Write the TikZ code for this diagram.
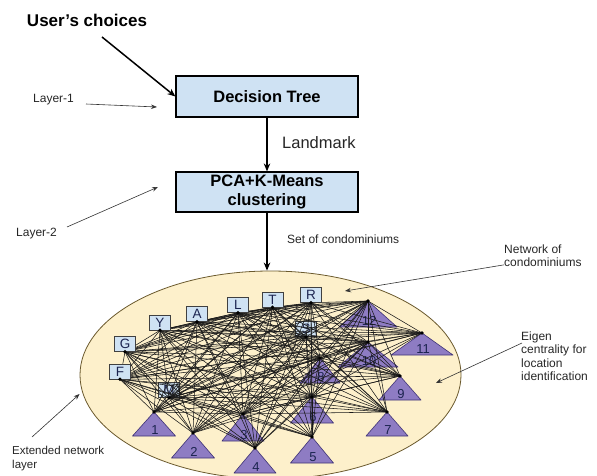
\documentclass[tikz,border=0pt]{standalone}
\usepackage{fontspec}
\setmainfont{Liberation Sans}
\usetikzlibrary{arrows.meta,shapes.geometric}

\definecolor{boxblue}{HTML}{CFE2F3}
\definecolor{cream}{HTML}{FDF0CB}
\definecolor{rim}{HTML}{6B5A2E}
\definecolor{violet}{HTML}{8E7CC3}
\definecolor{violetline}{HTML}{3E3275}
\definecolor{navy}{HTML}{1C2450}

\pgfdeclarelayer{back}
\pgfdeclarelayer{links}
\pgfsetlayers{back,links,main}

\tikzset{
  stage/.style={draw=black, line width=1.2pt, fill=boxblue, minimum width=182pt,
    minimum height=41pt, inner sep=0pt, align=center,
    font=\fontsize{16.5}{19}\selectfont\bfseries},
  note/.style={inner sep=0pt, anchor=west, align=left, text=black!85,
    font=\fontsize{12}{13.5}\selectfont},
  pointer/.style={-{Stealth[length=6pt,width=4.5pt]}, line width=0.6pt, black!80},
  flow/.style={-{Stealth[length=8pt,width=6.5pt]}, line width=1.5pt},
  letterbox/.style={draw=black!75, line width=0.6pt, fill=boxblue, minimum width=21pt,
    minimum height=15pt, inner sep=0pt, text=navy, font=\fontsize{13.5}{13.5}\selectfont},
  cluster/.style={fill=violet, draw=violetline, line width=0.6pt, line join=round},
  link/.style={line width=0.55pt, black!90},
  hub/.style={circle, fill=black, inner sep=0pt, minimum size=3.8pt},
  tag/.style={text=navy, font=\fontsize{13}{13}\selectfont, inner sep=0pt},
}

\begin{document}
\begin{tikzpicture}[x=1pt, y=-1pt]
\useasboundingbox (0,0) rectangle (597,476);

% ---------- pipeline ----------
\node[inner sep=0pt, font=\fontsize{17}{17}\selectfont\bfseries] (user) at (87,20) {User’s choices};
\node[stage] (dt) at (267,96.5) {Decision Tree};
\node[stage, minimum height=40pt] (pca) at (267,192) {PCA+K-Means\\clustering};

\coordinate (userTail) at (102,37);
\draw[flow] (userTail) -- (dt.west);
\draw[flow] (dt.south) -- (pca.north);
\node[note, font=\fontsize{16.5}{18}\selectfont] (landmark) at (282,143) {Landmark};

\node[note, anchor=center] (l1) at (53.5,100) {Layer-1};
\coordinate (l1tail) at (86,104);
\coordinate (l1tip) at (157,107);
\draw[pointer] (l1tail) -- (l1tip);

\node[note, anchor=center] (l2) at (36.5,234) {Layer-2};
\coordinate (l2tail) at (67,227);
\coordinate (l2tip) at (158,187);
\draw[pointer] (l2tail) -- (l2tip);

\node[note] (setc) at (287,239) {Set of condominiums};

% ---------- network layer ----------
\begin{pgfonlayer}{back}
  \node[ellipse, draw=rim, fill=cream, line width=0.8pt, minimum width=381pt,
        minimum height=208pt, inner sep=0pt] (net) at (270.5,375) {};
  % boxes buried under the links
  \node[letterbox] (S) at (306,329) {S};
  \node[letterbox] (M) at (169,390) {M};
  % condominium clusters: apex, half width, height
  \foreach \n/\px/\py/\w/\h in {1/154/412/21.5/24, 2/193/433/21.5/25, 3/243/414/21/27,
      4/255/448/21/25, 5/312/437/21.5/26, 6/312/397/21.5/26, 7/387/412/21/24,
      8/320/358/20/25, 9/400/376/21/24, 10/368/342/30/25, 11/422/333/31/22,
      12/368/301/29/26}{
    \coordinate (t\n) at (\px,\py);
    \draw[cluster] (t\n) -- ++(-\w,\h) -- ++(2*\w,0) -- cycle;
    \path (t\n) ++(1,\h-6) node[tag] {\n};
  }
\end{pgfonlayer}

\draw[flow] (pca.south) -- (pca.south |- net.north);

\node[letterbox] (G) at (125,344) {G};
\node[letterbox] (F) at (120,371.5) {F};
\node[letterbox] (Y) at (160,322.5) {Y};
\node[letterbox] (A) at (197,314) {A};
\node[letterbox] (L) at (238,305) {L};
\node[letterbox] (T) at (272.5,299.5) {T};
\node[letterbox] (R) at (311,295) {R};

% inner nodes are all linked together; outer ones link only to inner ones
\def\innernodes{G.south,F.south,Y.south,A.south,L.south,T.south,R.south,S.south,M.south,
  t3,t6,t8,t10,t12}
\def\outernodes{t1,t2,t4,t5,t7,t9,t11}
\begin{pgfonlayer}{links}
  \foreach \a [count=\i] in \innernodes {
    \foreach \b [count=\j] in \innernodes {
      \ifnum\j>\i \draw[link] (\a) -- (\b); \fi
    }
    \foreach \b in \outernodes { \draw[link] (\a) -- (\b); }
  }
\end{pgfonlayer}

\foreach \b in {G,F,Y,A,L,T,R,S,M}{\node[hub] at (\b.south) {};}
\foreach \n in {1,...,12}{\node[hub] at (t\n) {};}

% ---------- side notes ----------
\node[note] (netnote) at (504,255.5) {Network of\\condominiums};
\coordinate (netTip) at (345,291);
\draw[pointer] (netnote.south west) ++(0,-2) -- (netTip);

\node[note] (eigen) at (521,356) {Eigen\\centrality for\\location\\identification};
\coordinate (eigenTail) at (522,343);
\coordinate (eigenTip) at (436,383);
\draw[pointer] (eigenTail) -- (eigenTip);

\node[note, font=\fontsize{11.5}{14}\selectfont] (ext) at (12,459) {Extended network\\layer};
\coordinate (extTail) at (32,437);
\draw[pointer] (extTail) -- (net.west |- 0,394);
\end{tikzpicture}
\end{document}
